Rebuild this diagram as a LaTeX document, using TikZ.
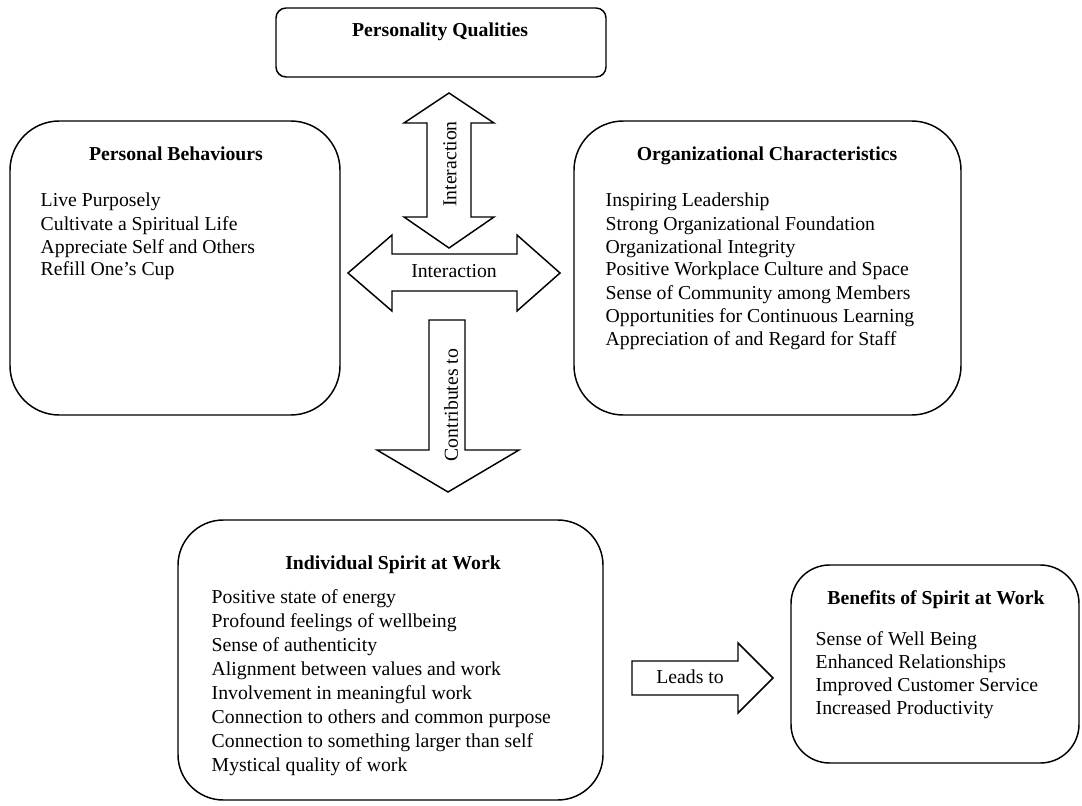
\documentclass[tikz,border=0pt]{standalone}
\usepackage{fontspec}
\setmainfont{Liberation Serif}
\usetikzlibrary{fit}
\begin{document}
\begin{tikzpicture}[x=0.75pt,y=-0.75pt,line width=1.1pt,
  panel/.style={draw,inner sep=0pt,rounded corners=#1},
  panel/.default=37pt,
  heading/.style={font=\fontsize{14.8}{17}\selectfont\bfseries,anchor=base,inner sep=0pt},
  entry/.style={font=\fontsize{14.8}{17}\selectfont,anchor=base west,inner sep=0pt},
  arrowtext/.style={font=\fontsize{14.8}{17}\selectfont,inner sep=0pt},
  blockarrow/.style={draw,line join=miter,fill=white}]
\useasboundingbox (0,0) rectangle (1082,806);

% boxes
\node[panel=7.5pt,fit={(276,8) (606,77)}] (pq) {};
\node[heading] (pqt) at (440,37) {Personality Qualities};

\node[panel,fit={(10,121) (340,415)}] (pb) {};
\node[heading] (pbt) at (176,161) {Personal Behaviours};
\foreach \t [count=\i from 0] in {Live Purposely,Cultivate a Spiritual Life,Appreciate Self and Others,Refill One’s Cup}
  \node[entry] (pb\i) at (40,207+23*\i) {\t};

\node[panel,fit={(574,121) (961,415)}] (oc) {};
\node[heading] (oct) at (767,161) {Organizational Characteristics};
\foreach \t [count=\i from 0] in {Inspiring Leadership,Strong Organizational Foundation,Organizational Integrity,Positive Workplace Culture and Space,Sense of Community among Members,Opportunities for Continuous Learning,Appreciation of and Regard for Staff}
  \node[entry] (oc\i) at (605,207+23*\i) {\t};

\node[panel=34pt,fit={(178,520) (603,800)}] (is) {};
\node[heading] (ist) at (393,569) {Individual Spirit at Work};
\foreach \t [count=\i from 0] in {Positive state of energy,Profound feelings of wellbeing,Sense of authenticity,Alignment between values and work,Involvement in meaningful work,Connection to others and common purpose,Connection to something larger than self,Mystical quality of work}
  \node[entry] (is\i) at (211,603+24*\i) {\t};

\node[panel=29pt,fit={(791,565) (1079,763)}] (bs) {};
\node[heading] (bst) at (936,604) {Benefits of Spirit at Work};
\foreach \t [count=\i from 0] in {Sense of Well Being,Enhanced Relationships,Improved Customer Service,Increased Productivity}
  \node[entry] (bs\i) at (815,645+23*\i) {\t};

% block arrows
\draw[blockarrow] (449,93) -- (494,123) -- (471,123) -- (471,217) -- (494,217) -- (449,248)
  -- (404,217) -- (427,217) -- (427,123) -- (404,123) -- cycle;
\node[arrowtext,rotate=90] (ia1) at (450,164) {Interaction};

\draw[blockarrow] (348,273) -- (392,235) -- (392,254) -- (517,254) -- (517,235) -- (560,273)
  -- (517,311) -- (517,291) -- (392,291) -- (392,311) -- cycle;
\node[arrowtext] (ia2) at (454,271) {Interaction};

\draw[blockarrow] (429,320) -- (465,320) -- (465,450) -- (519,450) -- (448,492) -- (377,450)
  -- (429,450) -- cycle;
\node[arrowtext,rotate=90] (ct) at (451,405) {Contributes to};

\draw[blockarrow] (632,661) -- (738,661) -- (738,643) -- (773,678) -- (738,713) -- (738,695)
  -- (632,695) -- cycle;
\node[arrowtext] (lt) at (690,677) {Leads to};
\end{tikzpicture}
\end{document}
